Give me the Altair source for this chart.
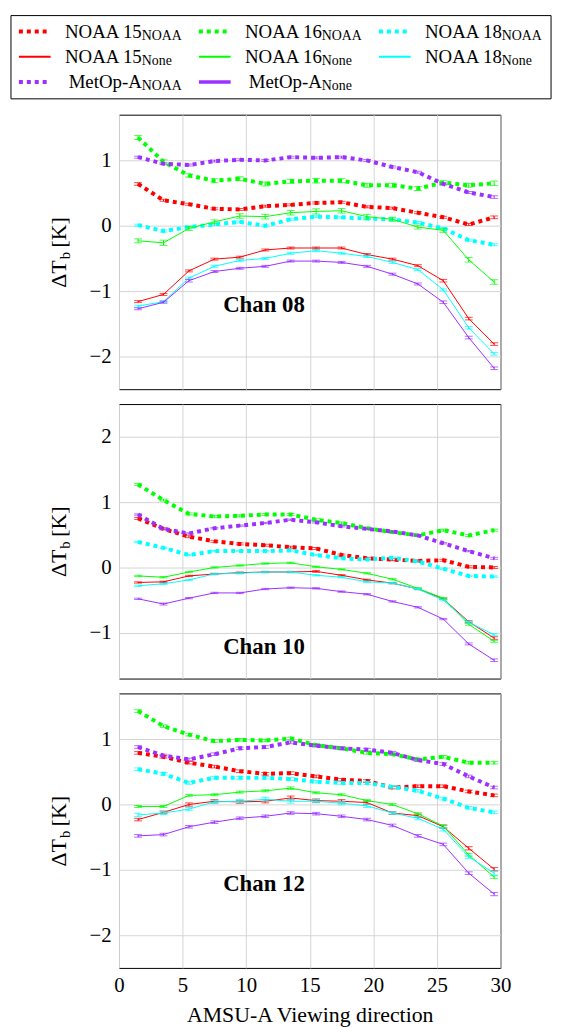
import altair as alt
import pandas as pd

# ---------------- data ----------------
x_dir = [1.5, 3.5, 5.5, 7.5, 9.5, 11.5, 13.5, 15.5, 17.5, 19.5, 21.5, 23.5, 25.5, 27.5, 29.5]

channels = ["08", "10", "12"]
sat_keys = ["n15", "n16", "n18", "metop"]
sat_labels = ["NOAA 15", "NOAA 16", "NOAA 18", "MetOp-A"]
kinds = ["NOAA", "None"]

# Channel 08
ch08_n15_noaa = [0.64, 0.39, 0.33, 0.26, 0.25, 0.30, 0.32, 0.35, 0.36, 0.29, 0.27, 0.20, 0.13, 0.02, 0.13]
ch08_n16_noaa = [1.35, 0.98, 0.77, 0.69, 0.72, 0.64, 0.68, 0.69, 0.69, 0.62, 0.62, 0.57, 0.66, 0.62, 0.65]
ch08_n18_noaa = [0.01, -0.08, -0.02, 0.02, 0.06, 0.00, 0.10, 0.14, 0.13, 0.11, 0.10, 0.05, -0.04, -0.22, -0.29]
ch08_metop_noaa = [1.05, 0.95, 0.93, 0.99, 1.01, 1.00, 1.05, 1.04, 1.05, 1.00, 0.90, 0.82, 0.64, 0.51, 0.44]
ch08_n15_none = [-1.16, -1.05, -0.69, -0.51, -0.48, -0.37, -0.34, -0.34, -0.34, -0.44, -0.51, -0.61, -0.84, -1.42, -1.81]
ch08_n16_none = [-0.23, -0.26, -0.04, 0.06, 0.15, 0.14, 0.20, 0.22, 0.23, 0.14, 0.10, -0.02, -0.07, -0.52, -0.86]
ch08_n18_none = [-1.23, -1.16, -0.80, -0.62, -0.53, -0.50, -0.42, -0.38, -0.42, -0.47, -0.56, -0.67, -0.98, -1.56, -1.96]
ch08_metop_none = [-1.27, -1.17, -0.84, -0.70, -0.65, -0.62, -0.54, -0.54, -0.56, -0.62, -0.74, -0.89, -1.17, -1.71, -2.18]

# Channel 10
ch10_n15_noaa = [0.75, 0.59, 0.47, 0.40, 0.36, 0.34, 0.31, 0.29, 0.19, 0.14, 0.12, 0.10, 0.11, 0.01, 0.00]
ch10_n16_noaa = [1.27, 1.03, 0.82, 0.78, 0.79, 0.81, 0.81, 0.73, 0.68, 0.60, 0.54, 0.49, 0.57, 0.49, 0.57]
ch10_n18_noaa = [0.39, 0.30, 0.19, 0.25, 0.25, 0.25, 0.26, 0.19, 0.14, 0.12, 0.15, 0.09, -0.02, -0.13, -0.14]
ch10_metop_noaa = [0.81, 0.59, 0.52, 0.60, 0.64, 0.68, 0.73, 0.69, 0.63, 0.59, 0.55, 0.49, 0.37, 0.25, 0.14]
ch10_n15_none = [-0.23, -0.22, -0.13, -0.10, -0.08, -0.07, -0.07, -0.06, -0.12, -0.19, -0.24, -0.33, -0.48, -0.83, -1.08]
ch10_n16_none = [-0.13, -0.15, -0.07, 0.00, 0.03, 0.06, 0.07, 0.01, -0.03, -0.09, -0.18, -0.32, -0.47, -0.87, -1.13]
ch10_n18_none = [-0.28, -0.25, -0.19, -0.10, -0.09, -0.07, -0.07, -0.12, -0.15, -0.22, -0.24, -0.33, -0.50, -0.84, -1.03]
ch10_metop_none = [-0.48, -0.56, -0.47, -0.39, -0.39, -0.33, -0.31, -0.32, -0.37, -0.41, -0.52, -0.61, -0.79, -1.17, -1.42]

# Channel 12
ch12_n15_noaa = [0.79, 0.73, 0.64, 0.58, 0.51, 0.47, 0.48, 0.43, 0.38, 0.36, 0.26, 0.28, 0.28, 0.20, 0.14]
ch12_n16_noaa = [1.43, 1.20, 1.07, 0.97, 0.99, 0.98, 1.01, 0.91, 0.86, 0.79, 0.77, 0.69, 0.73, 0.64, 0.64]
ch12_n18_noaa = [0.54, 0.47, 0.33, 0.41, 0.41, 0.41, 0.39, 0.35, 0.33, 0.33, 0.27, 0.21, 0.09, -0.05, -0.12]
ch12_metop_noaa = [0.88, 0.75, 0.69, 0.77, 0.86, 0.88, 0.95, 0.90, 0.86, 0.84, 0.79, 0.68, 0.62, 0.43, 0.26]
ch12_n15_none = [-0.23, -0.12, 0.00, 0.05, 0.04, 0.05, 0.10, 0.06, 0.05, 0.03, -0.13, -0.17, -0.34, -0.67, -0.99]
ch12_n16_none = [-0.03, -0.03, 0.14, 0.15, 0.19, 0.21, 0.25, 0.18, 0.15, 0.06, 0.00, -0.14, -0.33, -0.77, -1.11]
ch12_n18_none = [-0.16, -0.13, -0.07, 0.04, 0.05, 0.08, 0.05, 0.05, 0.02, -0.02, -0.13, -0.21, -0.38, -0.80, -1.05]
ch12_metop_none = [-0.48, -0.46, -0.34, -0.27, -0.21, -0.18, -0.13, -0.14, -0.18, -0.23, -0.32, -0.48, -0.61, -1.05, -1.37]

# error bar half-widths
err08_n15_noaa = [0.02, 0.015, 0.015, 0.015, 0.015, 0.015, 0.015, 0.015, 0.015, 0.015, 0.015, 0.015, 0.015, 0.015, 0.02]
err08_n16_noaa = [0.03, 0.03, 0.025, 0.03, 0.03, 0.03, 0.03, 0.035, 0.03, 0.03, 0.03, 0.03, 0.03, 0.03, 0.035]
err08_n18_noaa = [0.015, 0.015, 0.015, 0.015, 0.015, 0.015, 0.015, 0.015, 0.015, 0.015, 0.015, 0.015, 0.015, 0.015, 0.015]
err08_metop_noaa = [0.015, 0.015, 0.015, 0.015, 0.015, 0.015, 0.015, 0.015, 0.015, 0.015, 0.015, 0.015, 0.015, 0.015, 0.02]
err08_n15_none = [0.015, 0.015, 0.015, 0.015, 0.015, 0.015, 0.015, 0.015, 0.015, 0.015, 0.015, 0.015, 0.02, 0.02, 0.02]
err08_n16_none = [0.03, 0.04, 0.03, 0.03, 0.035, 0.035, 0.035, 0.04, 0.035, 0.035, 0.03, 0.03, 0.03, 0.035, 0.035]
err08_n18_none = [0.015, 0.015, 0.015, 0.015, 0.015, 0.015, 0.015, 0.015, 0.015, 0.015, 0.015, 0.015, 0.015, 0.02, 0.02]
err08_metop_none = [0.015, 0.015, 0.02, 0.015, 0.015, 0.015, 0.015, 0.015, 0.015, 0.015, 0.015, 0.015, 0.02, 0.02, 0.02]

err10_n15_noaa = [0.015, 0.015, 0.015, 0.015, 0.015, 0.015, 0.015, 0.015, 0.015, 0.015, 0.015, 0.015, 0.015, 0.015, 0.015]
err10_n16_noaa = [0.015, 0.015, 0.015, 0.015, 0.015, 0.015, 0.015, 0.015, 0.015, 0.015, 0.015, 0.015, 0.015, 0.015, 0.015]
err10_n18_noaa = [0.01, 0.01, 0.01, 0.01, 0.01, 0.01, 0.01, 0.01, 0.01, 0.01, 0.01, 0.01, 0.01, 0.01, 0.01]
err10_metop_noaa = [0.01, 0.01, 0.01, 0.01, 0.01, 0.01, 0.01, 0.01, 0.01, 0.01, 0.01, 0.01, 0.01, 0.01, 0.015]
err10_n15_none = [0.01, 0.01, 0.01, 0.01, 0.01, 0.01, 0.01, 0.015, 0.01, 0.01, 0.01, 0.01, 0.01, 0.015, 0.02]
err10_n16_none = [0.01, 0.01, 0.01, 0.01, 0.01, 0.01, 0.01, 0.01, 0.01, 0.01, 0.01, 0.01, 0.01, 0.015, 0.015]
err10_n18_none = [0.01, 0.01, 0.01, 0.01, 0.01, 0.01, 0.01, 0.01, 0.01, 0.01, 0.01, 0.01, 0.01, 0.015, 0.015]
err10_metop_none = [0.01, 0.015, 0.01, 0.01, 0.01, 0.01, 0.01, 0.01, 0.01, 0.01, 0.01, 0.01, 0.01, 0.015, 0.02]

err12_n15_noaa = [0.02, 0.02, 0.02, 0.02, 0.02, 0.02, 0.02, 0.02, 0.02, 0.02, 0.02, 0.02, 0.02, 0.02, 0.02]
err12_n16_noaa = [0.02, 0.02, 0.02, 0.02, 0.02, 0.02, 0.02, 0.02, 0.02, 0.02, 0.02, 0.02, 0.02, 0.02, 0.02]
err12_n18_noaa = [0.02, 0.02, 0.02, 0.02, 0.02, 0.02, 0.02, 0.02, 0.02, 0.02, 0.02, 0.02, 0.02, 0.02, 0.02]
err12_metop_noaa = [0.02, 0.02, 0.02, 0.02, 0.02, 0.02, 0.02, 0.02, 0.02, 0.02, 0.02, 0.02, 0.02, 0.02, 0.02]
err12_n15_none = [0.02, 0.02, 0.025, 0.025, 0.025, 0.025, 0.03, 0.025, 0.025, 0.025, 0.02, 0.025, 0.025, 0.025, 0.025]
err12_n16_none = [0.015, 0.015, 0.015, 0.015, 0.015, 0.015, 0.02, 0.015, 0.015, 0.015, 0.015, 0.015, 0.02, 0.02, 0.02]
err12_n18_none = [0.025, 0.025, 0.025, 0.025, 0.03, 0.03, 0.03, 0.025, 0.025, 0.025, 0.02, 0.025, 0.025, 0.025, 0.03]
err12_metop_none = [0.02, 0.02, 0.02, 0.02, 0.02, 0.02, 0.02, 0.02, 0.02, 0.02, 0.02, 0.02, 0.02, 0.02, 0.025]

values = {
    ("08", "n15", "NOAA"): ch08_n15_noaa, ("08", "n16", "NOAA"): ch08_n16_noaa,
    ("08", "n18", "NOAA"): ch08_n18_noaa, ("08", "metop", "NOAA"): ch08_metop_noaa,
    ("08", "n15", "None"): ch08_n15_none, ("08", "n16", "None"): ch08_n16_none,
    ("08", "n18", "None"): ch08_n18_none, ("08", "metop", "None"): ch08_metop_none,
    ("10", "n15", "NOAA"): ch10_n15_noaa, ("10", "n16", "NOAA"): ch10_n16_noaa,
    ("10", "n18", "NOAA"): ch10_n18_noaa, ("10", "metop", "NOAA"): ch10_metop_noaa,
    ("10", "n15", "None"): ch10_n15_none, ("10", "n16", "None"): ch10_n16_none,
    ("10", "n18", "None"): ch10_n18_none, ("10", "metop", "None"): ch10_metop_none,
    ("12", "n15", "NOAA"): ch12_n15_noaa, ("12", "n16", "NOAA"): ch12_n16_noaa,
    ("12", "n18", "NOAA"): ch12_n18_noaa, ("12", "metop", "NOAA"): ch12_metop_noaa,
    ("12", "n15", "None"): ch12_n15_none, ("12", "n16", "None"): ch12_n16_none,
    ("12", "n18", "None"): ch12_n18_none, ("12", "metop", "None"): ch12_metop_none,
}
errors = {
    ("08", "n15", "NOAA"): err08_n15_noaa, ("08", "n16", "NOAA"): err08_n16_noaa,
    ("08", "n18", "NOAA"): err08_n18_noaa, ("08", "metop", "NOAA"): err08_metop_noaa,
    ("08", "n15", "None"): err08_n15_none, ("08", "n16", "None"): err08_n16_none,
    ("08", "n18", "None"): err08_n18_none, ("08", "metop", "None"): err08_metop_none,
    ("10", "n15", "NOAA"): err10_n15_noaa, ("10", "n16", "NOAA"): err10_n16_noaa,
    ("10", "n18", "NOAA"): err10_n18_noaa, ("10", "metop", "NOAA"): err10_metop_noaa,
    ("10", "n15", "None"): err10_n15_none, ("10", "n16", "None"): err10_n16_none,
    ("10", "n18", "None"): err10_n18_none, ("10", "metop", "None"): err10_metop_none,
    ("12", "n15", "NOAA"): err12_n15_noaa, ("12", "n16", "NOAA"): err12_n16_noaa,
    ("12", "n18", "NOAA"): err12_n18_noaa, ("12", "metop", "NOAA"): err12_metop_noaa,
    ("12", "n15", "None"): err12_n15_none, ("12", "n16", "None"): err12_n16_none,
    ("12", "n18", "None"): err12_n18_none, ("12", "metop", "None"): err12_metop_none,
}

# ---------------- styles ----------------
FONT = "Liberation Serif"
colors = {"n15": "#ff0000", "n16": "#00ff00", "n18": "#00ffff", "metop": "#9b30ff"}
label_of = dict(zip(sat_keys, sat_labels))
plot_order = [("n15", "NOAA"), ("n16", "NOAA"), ("n18", "NOAA"),
              ("n15", "None"), ("n16", "None"), ("n18", "None"),
              ("metop", "NOAA"), ("metop", "None")]

rows = []
for (ch, sat, kind), vals in values.items():
    errs = errors[(ch, sat, kind)]
    for xv, v, e in zip(x_dir, vals, errs):
        rows.append({"channel": ch, "sat": sat, "kind": kind, "x": xv,
                     "value": v, "lo": v - e, "hi": v + e})
df = pd.DataFrame(rows)

PW, PH = 385, 277
x_scale = alt.Scale(domain=[0, 30], nice=False, zero=False)


def panel(ch, ydomain, yticks, show_x):
    x_axis = alt.Axis(values=[0, 5, 10, 15, 20, 25, 30], grid=True, ticks=False, domain=False,
                      labels=show_x, labelFlush=False, labelFontSize=21, labelPadding=7,
                      labelFont=FONT, titleFont=FONT,
                      title="AMSU-A Viewing direction" if show_x else None,
                      titleFontSize=22, titlePadding=9, titleFontWeight="normal")
    y_axis = alt.Axis(values=yticks, grid=True, ticks=False, domain=False, title=None,
                      labelFont=FONT, labelFlush=False, labelFontSize=21, labelPadding=8)
    ys = alt.Scale(domain=ydomain, nice=False, zero=False)
    layers = []
    d = df[df["channel"] == ch]
    for sat, kind in plot_order:
        sd = d[(d["sat"] == sat) & (d["kind"] == kind)]
        col = colors[sat]
        base = alt.Chart(sd)
        X = alt.X("x:Q", scale=x_scale, axis=x_axis)
        if kind == "NOAA":
            line = base.mark_line(color=col, strokeWidth=4, strokeDash=[4, 4], strokeCap="butt")
        else:
            line = base.mark_line(color=col, strokeWidth=1)
        layers.append(line.encode(x=X, y=alt.Y("value:Q", scale=ys, axis=y_axis)))
        layers.append(base.mark_rule(color=col, strokeWidth=1).encode(
            x=X, y=alt.Y("lo:Q", scale=ys, axis=y_axis), y2="hi:Q"))
        layers.append(base.mark_tick(color=col, orient="horizontal", size=8, thickness=1).encode(
            x=X, y=alt.Y("lo:Q", scale=ys, axis=y_axis)))
        layers.append(base.mark_tick(color=col, orient="horizontal", size=8, thickness=1).encode(
            x=X, y=alt.Y("hi:Q", scale=ys, axis=y_axis)))
    # channel annotation
    lab = pd.DataFrame({"x": [11.4], "y": [-1.32], "t": ["Chan " + ch]})
    layers.append(alt.Chart(lab).mark_text(font=FONT, fontSize=23, fontWeight="bold", color="black",
                                           align="center", baseline="alphabetic").encode(
        x=alt.X("x:Q", scale=x_scale, axis=x_axis), y=alt.Y("y:Q", scale=ys, axis=y_axis), text="t:N"))
    # y-axis title  ΔT_b [K]
    t1 = pd.DataFrame({"t": ["ΔT"]})
    t2 = pd.DataFrame({"t": ["b"]})
    t3 = pd.DataFrame({"t": ["[K]"]})
    layers.append(alt.Chart(t1).mark_text(font=FONT, fontSize=22, color="black", angle=270,
                                          align="right", baseline="alphabetic").encode(
        x=alt.value(-53), y=alt.value(147), text="t:N"))
    layers.append(alt.Chart(t2).mark_text(font=FONT, fontSize=15, color="black", angle=270,
                                          align="left", baseline="alphabetic").encode(
        x=alt.value(-49), y=alt.value(146), text="t:N"))
    layers.append(alt.Chart(t3).mark_text(font=FONT, fontSize=22, color="black", angle=270,
                                          align="left", baseline="alphabetic").encode(
        x=alt.value(-53), y=alt.value(134), text="t:N"))
    return alt.layer(*layers).properties(width=PW, height=PH)


p08 = panel("08", [-2.5, 1.7], [-2, -1, 0, 1], False)
p10 = panel("10", [-1.7, 2.5], [-1, 0, 1, 2], False)
p12 = panel("12", [-2.5, 1.7], [-2, -1, 0, 1], True)

# ---------------- legend ----------------
LW, LH = 545, 85
cw = LW / 3.0
leg_rows = []
for i, (sat, kind) in enumerate(plot_order):
    r, c = divmod(i, 3)
    ry = 16 + 25.5 * r
    leg_rows.append({"sat": sat, "kind": kind,
                     "sx0": c * cw + 8, "sx1": c * cw + 40, "sy": ry,
                     "tx": c * cw + 132, "ty": ry + 6.5, "tys": ry + 8.5,
                     "main": label_of[sat], "sub": kind,
                     "lw": 3.5 if (sat == "metop" and kind == "None") else 2})
leg = pd.DataFrame(leg_rows)
lx = alt.Scale(domain=[0, LW], range=[-109, LW - 109])
ly = alt.Scale(domain=[0, LH], range=[0, LH])
color_scale = alt.Scale(domain=sat_keys, range=[colors[k] for k in sat_keys])

box = alt.Chart(pd.DataFrame({"x0": [0], "x1": [LW], "y0": [0], "y1": [84]})).mark_rect(
    fill="white", stroke="black", strokeWidth=1).encode(
    x=alt.X("x0:Q", scale=lx, axis=None), x2="x1:Q",
    y=alt.Y("y0:Q", scale=ly, axis=None), y2="y1:Q")
dots = alt.Chart(leg[leg["kind"] == "NOAA"]).mark_rule(strokeWidth=4, strokeDash=[4, 4], strokeCap="butt").encode(
    x=alt.X("sx0:Q", scale=lx, axis=None), x2="sx1:Q",
    y=alt.Y("sy:Q", scale=ly, axis=None),
    color=alt.Color("sat:N", scale=color_scale, legend=None))
solids = alt.Chart(leg[leg["kind"] == "None"]).mark_rule().encode(
    x=alt.X("sx0:Q", scale=lx, axis=None), x2="sx1:Q",
    y=alt.Y("sy:Q", scale=ly, axis=None),
    color=alt.Color("sat:N", scale=color_scale, legend=None),
    strokeWidth=alt.StrokeWidth("lw:Q", scale=None, legend=None))
mains = alt.Chart(leg).mark_text(font=FONT, fontSize=19, color="black", align="right",
                                 baseline="alphabetic").encode(
    x=alt.X("tx:Q", scale=lx, axis=None), y=alt.Y("ty:Q", scale=ly, axis=None), text="main:N")
subs = alt.Chart(leg).mark_text(font=FONT, fontSize=14, color="black", align="left",
                                baseline="alphabetic").encode(
    x=alt.X("tx:Q", scale=lx, axis=None), y=alt.Y("tys:Q", scale=ly, axis=None), text="sub:N")
legend = alt.layer(box, dots, solids, mains, subs).properties(
    width=PW, height=LH, view=alt.ViewBackground(stroke="transparent"))

chart = alt.vconcat(legend, p08, p10, p12, spacing=15, bounds="flush").resolve_scale(
    x="independent", y="independent"
).properties(
    padding={"left": 2, "top": 2, "right": 5, "bottom": 0}
).configure(
    font=FONT
).configure_view(
    stroke="black", strokeWidth=1
).configure_axis(
    gridColor="#d4d4d4", gridWidth=1, labelColor="black", titleColor="black",
    labelFont=FONT, titleFont=FONT
).configure_text(
    font=FONT
)

chart.save("out.html", embed_options={"renderer": "svg", "actions": False})
